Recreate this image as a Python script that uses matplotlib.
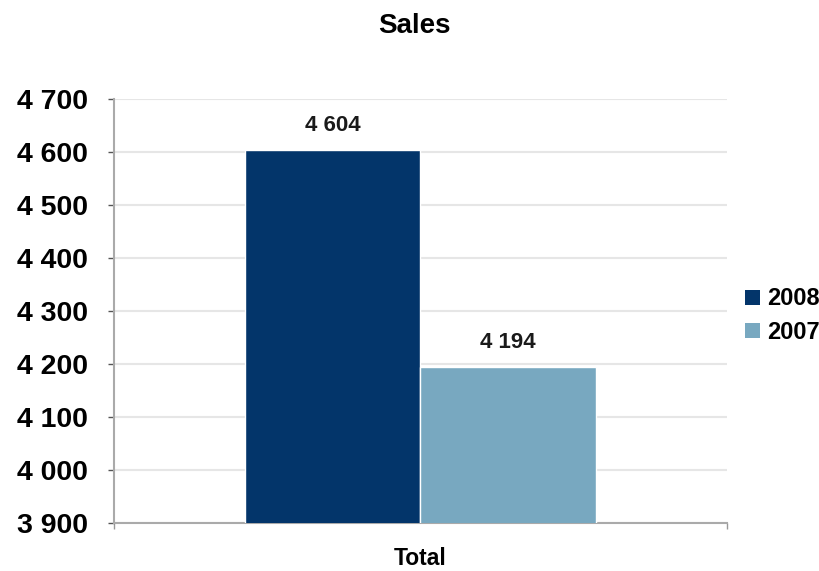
import matplotlib.pyplot as plt
from matplotlib.patches import Patch
from matplotlib.ticker import FuncFormatter, FixedLocator

plt.rcParams["font.family"] = ["Liberation Sans", "DejaVu Sans"]

categories = ["Total"]
years = ["2008", "2007"]
sales = [4604, 4194]
colors = ["#03356A", "#78A8C0"]

fig = plt.figure(figsize=(8.2, 5.71), dpi=100)
ax = fig.add_axes([0.139, 0.084, 0.7476, 0.7426])

bar_w = 0.286
offsets = [-bar_w / 2, bar_w / 2]
for yr, val, col, off in zip(years, sales, colors, offsets):
    ax.bar(off, val, width=bar_w, color=col, edgecolor="white", linewidth=1,
           bottom=0, zorder=3)
    ax.text(off, val + 26, f"{val:,}".replace(",", " "), ha="center", va="bottom",
            fontsize=16, fontweight="bold", color="#1a1a1a", zorder=4)

ax.set_xlim(-0.5, 0.5)
ax.set_ylim(3900, 4700)
ax.yaxis.set_major_locator(FixedLocator(range(3900, 4701, 100)))
ax.yaxis.set_major_formatter(FuncFormatter(lambda v, p: f"{int(v):,}".replace(",", " ")))
ax.grid(axis="y", color="#E6E6E6", linewidth=1.5, zorder=0)

ax.set_xticks([-0.5, 0.5])
ax.set_xticklabels([])
ax.tick_params(axis="x", direction="out", length=4, color="#999999", width=1)
ax.tick_params(axis="y", direction="out", length=4, color="#555555", width=1,
               labelsize=20.5, pad=15)
for lbl in ax.get_yticklabels():
    lbl.set_fontweight("bold")

# category name under the axis
ax.text(0, -0.098, categories[0], transform=ax.get_xaxis_transform(), ha="center",
        va="baseline", fontsize=16.5, fontweight="bold")

for side in ["top", "right"]:
    ax.spines[side].set_visible(False)
for side in ["left", "bottom"]:
    ax.spines[side].set_color("#AAAAAA")
    ax.spines[side].set_linewidth(1.5)

fig.text(0.505, 0.955, "Sales", ha="center", va="center", fontsize=20, fontweight="bold")

handles = [Patch(facecolor=c, edgecolor="none") for c in colors]
leg = fig.legend(handles, years, loc="center left", bbox_to_anchor=(0.909, 0.447),
                 frameon=False, handlelength=0.6, handleheight=0.6, handletextpad=0.3,
                 labelspacing=0.45, borderpad=0, borderaxespad=0,
                 prop={"size": 17, "weight": "bold"})

fig.savefig("out.png", dpi=100)
